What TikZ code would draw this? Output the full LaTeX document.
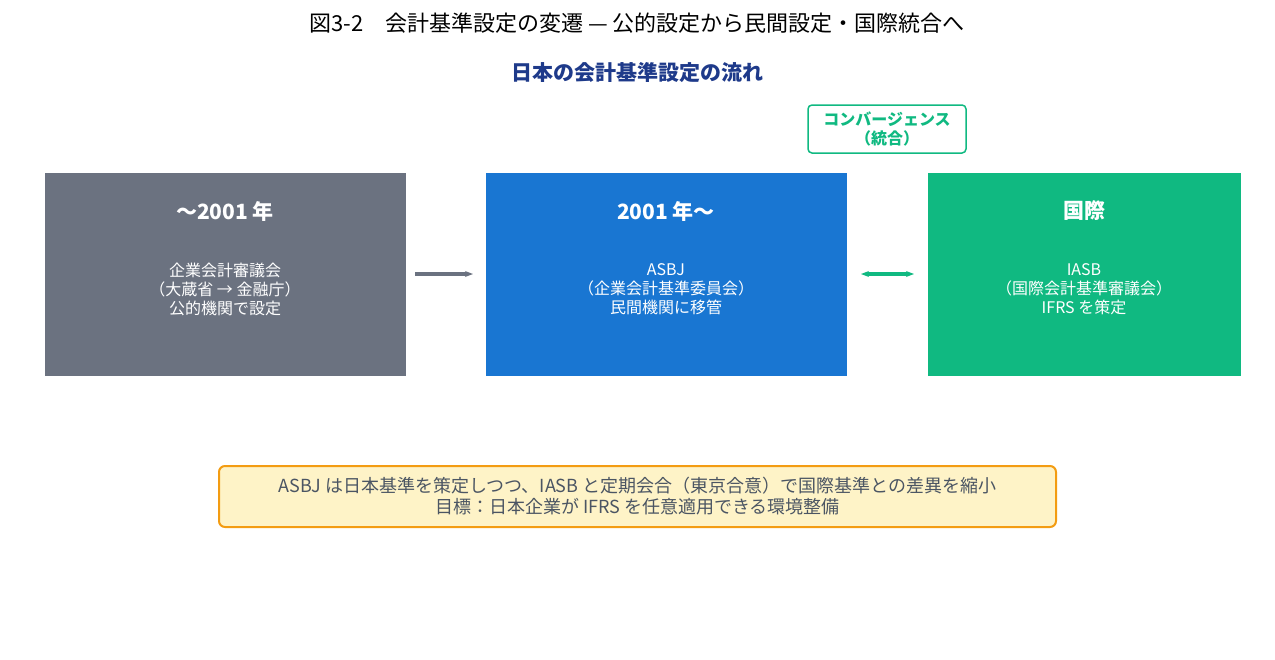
\documentclass[tikz,border=0pt]{standalone}
\usepackage{fontspec}
\setmainfont{Noto Sans CJK JP}
\usetikzlibrary{arrows.meta}
\definecolor{gbox}{HTML}{6B7280}
\definecolor{bbox}{HTML}{1976D2}
\definecolor{cbox}{HTML}{10B981}
\definecolor{tblue}{HTML}{1E3A8A}
\definecolor{nfill}{HTML}{FEF3C7}
\definecolor{nline}{HTML}{F39C12}
\definecolor{ntext}{HTML}{4B5563}
\begin{document}
\begin{tikzpicture}[x=1pt,y=-1pt]
\tikzstyle{era}=[text=white,align=center,font=\fontsize{16}{19}\selectfont]
\tikzstyle{head}=[text=white,font=\fontsize{21}{24}\selectfont\bfseries]
\useasboundingbox (0,0) rectangle (1275,659);
\node (title) at (637,23) {\fontsize{22}{26}\selectfont 図3-2\quad 会計基準設定の変遷 — 公的設定から民間設定・国際統合へ};
\node (sub) at (637,73) [text=tblue,font=\fontsize{21}{24}\selectfont\bfseries] {日本の会計基準設定の流れ};
\fill [gbox] (45,173) rectangle (406,376);
\fill [bbox] (486,173) rectangle (847,376);
\fill [cbox] (928,173) rectangle (1241,376);
\node (old) at (225,211) [head] {〜2001 年};
\node (oldt) at (225,289) [era] {企業会計審議会\\（大蔵省 → 金融庁）\\公的機関で設定};
\node (asbj) at (666,211) [head] {2001 年〜};
\node (asbjt) at (666,289) [era] {ASBJ\\（企業会計基準委員会）\\民間機関に移管};
\node (iasb) at (1084,211) [head] {国際};
\node (iasbt) at (1084,289) [era] {IASB\\（国際会計基準審議会）\\IFRS を策定};
\node (conv) at (887,129) [draw=cbox,line width=1.5pt,rounded corners=4pt,text=cbox,align=center,minimum width=158pt,minimum height=48pt,inner sep=0pt,font=\fontsize{16}{19}\selectfont\bfseries] {コンバージェンス\\（統合）};
\coordinate (a1) at (415,274);
\coordinate (a2) at (473,274);
\coordinate (b1) at (861,274);
\coordinate (b2) at (914,274);
\draw [gbox,line width=3.5pt,-{Stealth[length=8pt]}] (a1) -- (a2);
\draw [cbox,line width=3.5pt,{Stealth[length=8pt]}-{Stealth[length=8pt]}] (b1) -- (b2);
\node (note) at (637.5,496.5) [draw=nline,fill=nfill,line width=2pt,rounded corners=6pt,text=ntext,align=center,minimum width=837pt,minimum height=61pt,inner sep=0pt,font=\fontsize{18}{21}\selectfont] {ASBJ は日本基準を策定しつつ、IASB と定期会合（東京合意）で国際基準との差異を縮小\\目標：日本企業が IFRS を任意適用できる環境整備};
\end{tikzpicture}
\end{document}
